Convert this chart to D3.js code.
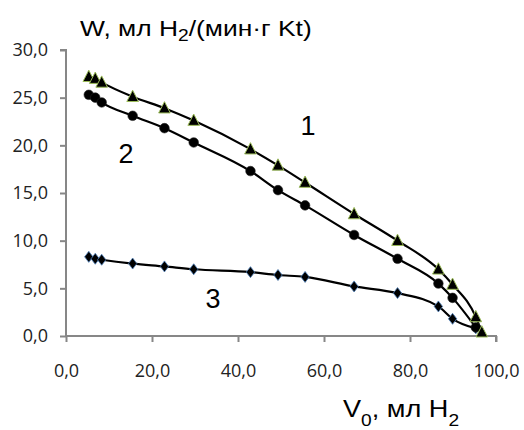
<!DOCTYPE html>
<html>
<head>
<meta charset="utf-8">
<script src="https://cdn.jsdelivr.net/npm/d3@7"></script>
<style>
  html, body { margin: 0; padding: 0; background: #fff; }
  svg { display: block; }
</style>
</head>
<body>
<svg id="chart" width="524" height="430"></svg>
<script>
// ---- data ----
const x1 = [5.3, 6.8, 8.3, 15.5, 22.9, 29.7, 42.9, 49.3, 55.6, 67.0, 77.1, 86.6, 89.9, 95.3, 96.7];
const w1 = [27.2, 27.0, 26.6, 25.1, 23.9, 22.6, 19.6, 17.9, 16.1, 12.8, 10.0, 7.0, 5.4, 2.0, 0.4];
const x2 = [5.3, 6.8, 8.3, 15.5, 22.9, 29.7, 42.9, 49.3, 55.6, 67.0, 77.1, 86.6, 89.9, 95.3];
const w2 = [25.3, 25.0, 24.5, 23.1, 21.8, 20.3, 17.3, 15.3, 13.7, 10.6, 8.1, 5.5, 4.0, 0.9];
const x3 = [5.3, 6.8, 8.3, 15.5, 22.9, 29.7, 42.9, 49.3, 55.6, 67.0, 77.1, 86.6, 89.9, 95.3];
const w3 = [8.3, 8.1, 8.0, 7.6, 7.3, 7.0, 6.7, 6.4, 6.2, 5.2, 4.5, 3.1, 1.8, 0.8];
const xTicks = [0, 20, 40, 60, 80, 100];
const yTicks = [0, 5, 10, 15, 20, 25, 30];
const curveLabels = ["1", "2", "3"];

// ---- layout ----
const svg = d3.select("#chart");
const x = d3.scaleLinear().domain([0, 100]).range([66, 496]);
const y = d3.scaleLinear().domain([0, 30]).range([336, 50]);
const fmt = v => v.toFixed(1).replace(".", ",");
const axisColor = "#878787";
const tickFont = "'Open Sans', sans-serif";
const titleFont = "'Liberation Sans', Arial, sans-serif";

// y axis
const yAxis = svg.append("g").attr("transform", `translate(${x(0)},0)`)
  .call(d3.axisLeft(y).tickValues(yTicks).tickFormat(fmt).tickSize(6).tickPadding(12));
// x axis
const xAxis = svg.append("g").attr("transform", `translate(0,${y(0)})`)
  .call(d3.axisBottom(x).tickValues(xTicks).tickFormat(fmt).tickSize(6).tickPadding(22));
[yAxis, xAxis].forEach(g => {
  g.select(".domain").attr("stroke", axisColor).attr("stroke-width", 2);
  g.selectAll(".tick line").attr("stroke", axisColor).attr("stroke-width", 2);
  g.selectAll(".tick text").attr("fill", "#222").style("font-family", tickFont).style("font-size", "18px");
});
xAxis.select(".domain").attr("d", `M${x(0)},0H${x(100)}V6`);
yAxis.select(".domain").attr("d", `M-6,${y(30)}H0V${y(0)}`);

// lines
const line = d3.line().x(d => x(d[0])).y(d => y(d[1])).curve(d3.curveMonotoneX);
const s1 = x1.map((v, i) => [v, w1[i]]);
const s2 = x2.map((v, i) => [v, w2[i]]);
const s3 = x3.map((v, i) => [v, w3[i]]);
[s3, s2, s1].forEach(s => {
  svg.append("path").datum(s).attr("d", line)
    .attr("fill", "none").attr("stroke", "#000").attr("stroke-width", 2.2);
});

// markers
svg.append("g").selectAll("path").data(s3).join("path")
  .attr("transform", d => `translate(${x(d[0])},${y(d[1])})`)
  .attr("d", "M0,-5.5L4.2,0L0,5.5L-4.2,0Z")
  .attr("fill", "#000").attr("stroke", "#4F81BD").attr("stroke-width", 0.8);
svg.append("g").selectAll("circle").data(s2).join("circle")
  .attr("cx", d => x(d[0])).attr("cy", d => y(d[1])).attr("r", 4.8)
  .attr("fill", "#000").attr("stroke", "#222").attr("stroke-width", 0.6);
svg.append("g").selectAll("path").data(s1).join("path")
  .attr("transform", d => `translate(${x(d[0])},${y(d[1])})`)
  .attr("d", "M0,-6.5L5.8,4.8L-5.8,4.8Z")
  .attr("fill", "#000").attr("stroke", "#9BBB59").attr("stroke-width", 1);

// curve labels
const labelPos = [[308, 135], [126, 163], [213, 308]];
svg.append("g").selectAll("text").data(curveLabels).join("text")
  .attr("x", (d, i) => labelPos[i][0]).attr("y", (d, i) => labelPos[i][1])
  .attr("text-anchor", "middle")
  .style("font-family", titleFont).style("font-size", "27px")
  .attr("fill", "#000").text(d => d);

// axis titles
const yt = svg.append("text").attr("transform", "translate(80,36) scale(1.2,1)")
  .style("font-family", titleFont).style("font-size", "22px").attr("fill", "#000");
yt.append("tspan").text("W, мл H");
yt.append("tspan").attr("dy", 5).style("font-size", "16px").text("2");
yt.append("tspan").attr("dy", -5).text("/(мин·г Kt)");

const xt = svg.append("text").attr("transform", "translate(343,417) scale(1.13,1)")
  .style("font-family", titleFont).style("font-size", "24px").attr("fill", "#000");
xt.append("tspan").text("V");
xt.append("tspan").attr("dy", 9).style("font-size", "17px").text("0");
xt.append("tspan").attr("dy", -9).text(", мл H");
xt.append("tspan").attr("dy", 9).style("font-size", "17px").text("2");
</script>
</body>
</html>
